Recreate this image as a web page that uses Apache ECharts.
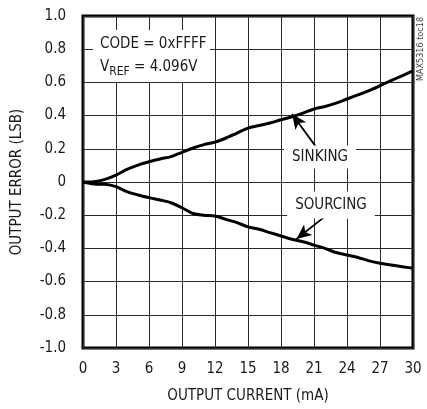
<!DOCTYPE html>
<html>
<head>
<meta charset="utf-8">
<script src="https://cdn.jsdelivr.net/npm/echarts@6/dist/echarts.min.js"></script>
<style>
  html, body { margin: 0; padding: 0; background: #fff; }
  #chart { width: 427px; height: 409px; }
</style>
</head>
<body>
<div id="chart"></div>
<script>
const FONT = "'DejaVu Sans Condensed', 'Liberation Sans Narrow', sans-serif";
const TXT = '#1a1a1a';

// output current (mA)
const current = [0, 1, 2, 3, 4, 5, 6, 7, 8, 9, 10, 11, 12, 13, 14, 15, 16, 17, 18, 19, 20,
  21, 22, 23, 24, 25, 26, 27, 28, 29, 30];
// output error (LSB)
const sinking = [0, 0.002, 0.016, 0.042, 0.076, 0.102, 0.122, 0.139, 0.153, 0.178, 0.205,
  0.225, 0.24, 0.265, 0.295, 0.325, 0.34, 0.355, 0.375, 0.393, 0.415,
  0.44, 0.455, 0.475, 0.5, 0.525, 0.55, 0.58, 0.61, 0.64, 0.67];
const sourcing = [0, -0.012, -0.014, -0.028, -0.058, -0.078, -0.094, -0.108, -0.125, -0.155, -0.19,
  -0.2, -0.205, -0.225, -0.245, -0.27, -0.285, -0.305, -0.325, -0.345, -0.36,
  -0.38, -0.4, -0.425, -0.44, -0.455, -0.475, -0.49, -0.5, -0.51, -0.52];

const xTicks = [0, 3, 6, 9, 12, 15, 18, 21, 24, 27, 30];
const yTicks = ['-1.0', '-0.8', '-0.6', '-0.4', '-0.2', '0', '0.2', '0.4', '0.6', '0.8', '1.0'];

// arrow annotations: [from, to] in data units
const sinkArrow = [[21.2, 0.21], [19.0, 0.41]];
const sourceArrow = [[21.9, -0.213], [19.4, -0.343]];

const pair = (xs, ys) => xs.map((x, i) => [x, ys[i]]);

const chart = echarts.init(document.getElementById('chart'));

const arrowLine = coords => ({
  silent: true, symbol: ['none', 'arrow'], symbolSize: [10, 15],
  lineStyle: { color: '#000', width: 1.8, type: 'solid' },
  label: { show: false },
  data: [[{ coord: coords[0] }, { coord: coords[1] }]]
});

const option = {
  animation: false,
  textStyle: { fontFamily: FONT },
  grid: {
    left: 83, right: 14, top: 16, bottom: 61,
    show: true, borderColor: '#000', borderWidth: 3, backgroundColor: 'transparent'
  },
  xAxis: {
    type: 'value', min: 0, max: 30, interval: 3,
    name: 'OUTPUT CURRENT (mA)', nameLocation: 'middle', nameGap: 41,
    nameTextStyle: { fontFamily: FONT, fontSize: 15, color: TXT },
    axisLine: { show: false }, axisTick: { show: false },
    axisLabel: {
      margin: 14, fontFamily: FONT, fontSize: 15, color: TXT,
      formatter: v => xTicks.includes(v) ? String(v) : ''
    },
    splitLine: { show: true, lineStyle: { color: '#2a2a2a', width: 1 } }
  },
  yAxis: {
    type: 'value', min: -1, max: 1, interval: 0.2,
    name: 'OUTPUT ERROR (LSB)', nameLocation: 'middle', nameGap: 58,
    nameTextStyle: { fontFamily: FONT, fontSize: 15, color: TXT },
    axisLine: { show: false }, axisTick: { show: false },
    axisLabel: {
      margin: 17, fontFamily: FONT, fontSize: 15, color: TXT,
      formatter: v => yTicks[Math.round((v + 1) / 0.2)]
    },
    splitLine: { show: true, lineStyle: { color: '#2a2a2a', width: 1 } }
  },
  series: [
    {
      name: 'SINKING', type: 'line', data: pair(current, sinking),
      smooth: 0.3, showSymbol: false, z: 5,
      lineStyle: { color: '#000', width: 3 },
      markLine: arrowLine(sinkArrow)
    },
    {
      name: 'SOURCING', type: 'line', data: pair(current, sourcing),
      smooth: 0.3, showSymbol: false, z: 5,
      lineStyle: { color: '#000', width: 3 },
      markLine: arrowLine(sourceArrow)
    }
  ],
  graphic: [
    {
      type: 'rect', shape: { x: 93, y: 30, width: 117, height: 52 },
      style: { fill: '#fff' }, z: 10
    },
    {
      type: 'text', x: 100, y: 44, z: 11,
      style: { text: 'CODE = 0xFFFF', font: '15px ' + FONT, fill: TXT, verticalAlign: 'middle' }
    },
    {
      type: 'text', x: 100, y: 67, z: 11,
      style: {
        text: '{v|V}{s|REF}{v| = 4.096V}',
        fill: TXT, verticalAlign: 'middle',
        rich: {
          v: { fontFamily: FONT, fontSize: 15, fill: TXT, verticalAlign: 'bottom' },
          s: { fontFamily: FONT, fontSize: 12, fill: TXT, verticalAlign: 'bottom', padding: [0, 0, -3, 0] }
        }
      }
    },
    {
      type: 'text', x: 320, y: 157, z: 11,
      style: {
        text: 'SINKING', font: '15px ' + FONT, fill: TXT, align: 'center', verticalAlign: 'middle',
        backgroundColor: '#fff', padding: [4, 8, 4, 8]
      }
    },
    {
      type: 'text', x: 331, y: 205, z: 11,
      style: {
        text: 'SOURCING', font: '15px ' + FONT, fill: TXT, align: 'center', verticalAlign: 'middle',
        backgroundColor: '#fff', padding: [6, 8, 6, 8]
      }
    },
    {
      type: 'text', x: 421, y: 49, rotation: Math.PI / 2, z: 11,
      style: { text: 'MAX5316 toc18', font: '9px ' + FONT, fill: '#444', align: 'center', verticalAlign: 'middle' }
    }
  ]
};

chart.setOption(option);
</script>
</body>
</html>
